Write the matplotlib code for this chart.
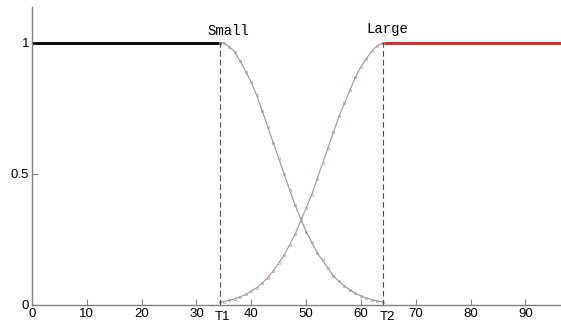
import numpy as np
import matplotlib.pyplot as plt

# thresholds
T1 = 34.3
T2 = 64.0

x_mid = [34.3, 35, 36, 37, 38, 39, 40, 41, 42, 43, 44, 45, 46, 47, 48, 49,
         50, 51, 52, 53, 54, 55, 56, 57, 58, 59, 60, 61, 62, 63, 64]
small_mid = [1.00, 1.00, 0.985, 0.965, 0.93, 0.89, 0.85, 0.80, 0.74, 0.68, 0.62,
             0.56, 0.50, 0.44, 0.38, 0.33, 0.28, 0.24, 0.20, 0.17, 0.14, 0.11,
             0.09, 0.072, 0.057, 0.045, 0.034, 0.026, 0.020, 0.015, 0.011]
large_mid = [0.011, 0.013, 0.018, 0.024, 0.031, 0.040, 0.053, 0.066, 0.084,
             0.104, 0.13, 0.16, 0.19, 0.23, 0.27, 0.32, 0.37, 0.42, 0.48,
             0.54, 0.60, 0.66, 0.72, 0.77, 0.82, 0.87, 0.91, 0.94, 0.97,
             0.99, 1.00]

x_left = [0, T1]
small_left = [1, 1]
x_right = [T2, 97]
large_right = [1, 1]

xticks = [0, 10, 20, 30, 40, 50, 60, 70, 80, 90]
yticks = [0, 0.5, 1]
yticklabels = ['0', '0.5', '1']

fig = plt.figure(figsize=(5.61, 3.22), dpi=100)
ax = fig.add_axes([0.057, 0.053, 0.943, 0.925])

ax.plot(x_left, small_left, color='black', lw=2)
ax.plot(x_right, large_right, color='#e02020', lw=2)

ax.plot(x_mid, small_mid, color='0.4', lw=0.8, alpha=0.7)
ax.plot(x_mid, large_mid, color='#8a6060', lw=0.8, alpha=0.7)
ax.plot(x_mid, small_mid, ls='none', marker='s', ms=1.6, mfc='none', mec='0.65', mew=0.5)
ax.plot(x_mid, large_mid, ls='none', marker='s', ms=1.6, mfc='none', mec='0.65', mew=0.5)

ax.plot([T1, T1], [0, 1], color='0.3', lw=0.8, ls=(0, (5, 3)))
ax.plot([T2, T2], [0, 1], color='0.3', lw=0.8, ls=(0, (5, 3)))

ax.text(35.9, 1.02, 'Small', family='Liberation Mono', fontsize=10, ha='center', va='bottom')
ax.text(64.8, 1.025, 'Large', family='Liberation Mono', fontsize=10, ha='center', va='bottom')
ax.text(T1 + 0.4, -0.025, 'T1', fontsize=9.5, ha='center', va='top', family='Liberation Sans')
ax.text(T2 + 0.8, -0.025, 'T2', fontsize=9.5, ha='center', va='top', family='Liberation Sans')

ax.set_xlim(0, 96.5)
ax.set_ylim(0, 1.137)
ax.set_xticks(xticks)
ax.set_yticks(yticks)
ax.set_yticklabels(yticklabels)
for lab in ax.get_xticklabels() + ax.get_yticklabels():
    lab.set_family('Liberation Sans')
    lab.set_fontsize(9.5)
ax.tick_params(direction='in', length=4, color='0.5', pad=2)

for s in ['top', 'right']:
    ax.spines[s].set_visible(False)
for s in ['left', 'bottom']:
    ax.spines[s].set_color('0.5')
    ax.spines[s].set_linewidth(1)

plt.savefig('out.png', dpi=100)
